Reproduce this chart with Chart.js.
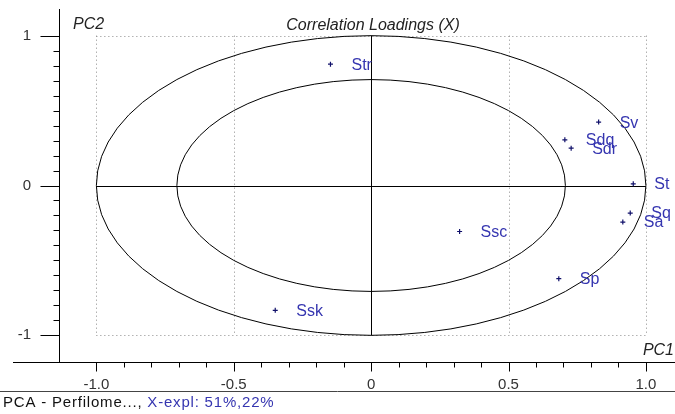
<!DOCTYPE html>
<html><head><meta charset="utf-8">
<script src="https://cdn.jsdelivr.net/npm/chart.js@4"></script>
<style>html,body{margin:0;padding:0;background:#fff}#w{width:675px;height:414px}</style>
</head><body><div id="w"><canvas id="c" width="675" height="414"></canvas></div>
<script>
const variableNames = ["Str","Sv","Sdq","Sdr","St","Sq","Sa","Ssc","Sp","Ssk"];
const pc1Loadings   = [-0.148, 0.828, 0.705, 0.728, 0.954, 0.943, 0.916, 0.322, 0.683, -0.349];
const pc2Loadings   = [0.810, 0.423, 0.305, 0.249, 0.011, -0.184, -0.244, -0.307, -0.622, -0.833];
const xTickValues = [-1.0, -0.5, 0, 0.5, 1.0];
const xTickLabels = ["-1.0", "-0.5", "0", "0.5", "1.0"];
const yTickValues = [-1, 0, 1];
const yTickLabels = ["-1", "0", "1"];
const circleRadii = [1.0, 0.707];
const chartTitle = "Correlation Loadings (X)";
const footerLeft = "PCA - Perfilome..., ";
const footerRight = "X-expl: 51%,22%";

const FONT = '"Liberation Sans", Arial, sans-serif';
const LABEL_BLUE = '#3535b0';

const decor = {
  id: 'decor',
  beforeDatasetsDraw(chart) {
    const {ctx, scales: {x, y}} = chart;
    const px = v => x.getPixelForValue(v), py = v => y.getPixelForValue(v);
    ctx.save();
    // dotted grid
    ctx.strokeStyle = '#8a8a8a'; ctx.lineWidth = 1; ctx.setLineDash([1, 3]);
    ctx.beginPath();
    [-1, -0.5, 0.5, 1].forEach(v => { const X = Math.round(px(v)) + 0.5; ctx.moveTo(X, py(1)); ctx.lineTo(X, py(-1)); });
    [1, -1].forEach(v => { const Y = Math.round(py(v)) + 0.5; ctx.moveTo(px(-1), Y); ctx.lineTo(px(1), Y); });
    ctx.stroke();
    ctx.setLineDash([]);
    // ellipses
    ctx.strokeStyle = '#000';
    const cx = px(0), cy = py(0);
    circleRadii.forEach(r => {
      ctx.beginPath();
      ctx.ellipse(cx, cy, px(r) - cx, cy - py(r), 0, 0, Math.PI * 2);
      ctx.stroke();
    });
    // center cross
    ctx.beginPath();
    const X0 = Math.round(cx) + 0.5, Y0 = Math.round(cy) + 0.5;
    ctx.moveTo(px(-1), Y0); ctx.lineTo(px(1), Y0);
    ctx.moveTo(X0, py(1)); ctx.lineTo(X0, py(-1));
    ctx.stroke();
    // axes lines
    const L = Math.round(chart.chartArea.left) + 0.5, B = Math.round(chart.chartArea.bottom) + 0.5;
    ctx.beginPath();
    ctx.moveTo(13, B); ctx.lineTo(chart.width, B);
    ctx.moveTo(L, chart.chartArea.top); ctx.lineTo(L, B);
    for (let i = -10; i <= 10; i++) {
      const v = i / 10, Y = Math.round(py(v)) + 0.5;
      const major = yTickValues.some(t => Math.abs(t - v) < 1e-9);
      ctx.moveTo(L - (major ? 19 : 6), Y); ctx.lineTo(L, Y);
    }
    for (let i = -10; i <= 10; i++) {
      const v = i / 10, X = Math.round(px(v)) + 0.5;
      const major = xTickValues.some(t => Math.abs(t - v) < 1e-9);
      ctx.moveTo(X, B); ctx.lineTo(X, B + (major ? 9 : 5));
    }
    ctx.stroke();
    // separator under x tick labels
    ctx.strokeStyle = '#444';
    ctx.beginPath();
    ctx.moveTo(0, 391.5); ctx.lineTo(chart.width, 391.5);
    ctx.stroke();
    ctx.restore();
  },
  afterDatasetsDraw(chart) {
    const {ctx, scales: {x, y}} = chart;
    ctx.save();
    ctx.fillStyle = LABEL_BLUE;
    ctx.font = '16px ' + FONT;
    ctx.textBaseline = 'middle';
    ctx.textAlign = 'left';
    variableNames.forEach((n, i) => {
      ctx.fillText(n, x.getPixelForValue(pc1Loadings[i]) + 21, y.getPixelForValue(pc2Loadings[i]) + 1);
    });
    ctx.fillStyle = '#222';
    ctx.font = 'italic 16px ' + FONT;
    ctx.textBaseline = 'alphabetic';
    ctx.fillText('PC2', 73, 29);
    ctx.textAlign = 'center';
    ctx.fillText(chartTitle, 373, 30);
    ctx.textAlign = 'right';
    ctx.fillText('PC1', 674, 355);
    ctx.textAlign = 'left';
    ctx.font = '15px ' + FONT;
    ctx.letterSpacing = '0.8px';
    ctx.fillStyle = '#111';
    ctx.fillText(footerLeft, 3, 407);
    const w = ctx.measureText(footerLeft).width;
    ctx.fillStyle = LABEL_BLUE;
    ctx.fillText(footerRight, 3 + w, 407);
    ctx.restore();
  }
};

new Chart(document.getElementById('c'), {
  type: 'scatter',
  data: {
    datasets: [{
      data: pc1Loadings.map((v, i) => ({x: v, y: pc2Loadings[i]})),
      pointStyle: 'cross', pointRadius: 2.5, pointBorderWidth: 1.2,
      borderColor: '#10106a', backgroundColor: '#10106a'
    }]
  },
  options: {
    responsive: false, animation: false,
    layout: {padding: {top: 9, left: 0, right: 0, bottom: 0}},
    plugins: {legend: {display: false}, tooltip: {enabled: false}, title: {display: false}},
    scales: {
      x: {
        type: 'linear', min: -1.136, max: 1.087,
        afterFit(s) { s.height = 52; s.paddingLeft = 0; s.paddingRight = 0; },
        afterBuildTicks(s) { s.ticks = xTickValues.map(v => ({value: v})); },
        grid: {display: false, drawTicks: true, tickLength: 14}, border: {display: false},
        ticks: {padding: 0, color: '#333', font: {family: FONT, size: 15},
          maxRotation: 0, autoSkip: false,
          callback: (v) => { const i = xTickValues.findIndex(t => Math.abs(t - v) < 1e-9); return i >= 0 ? xTickLabels[i] : ''; }}
      },
      y: {
        type: 'linear', min: -1.178, max: 1.178,
        afterFit(s) { s.width = 59; s.paddingTop = 0; s.paddingBottom = 0; },
        afterBuildTicks(s) { s.ticks = yTickValues.map(v => ({value: v})); },
        grid: {display: false, drawTicks: true, tickLength: 28}, border: {display: false},
        ticks: {padding: 0, color: '#333', font: {family: FONT, size: 15},
          autoSkip: false,
          callback: (v) => { const i = yTickValues.findIndex(t => Math.abs(t - v) < 1e-9); return i >= 0 ? yTickLabels[i] : ''; }}
      }
    }
  },
  plugins: [decor]
});
</script>
</body></html>
